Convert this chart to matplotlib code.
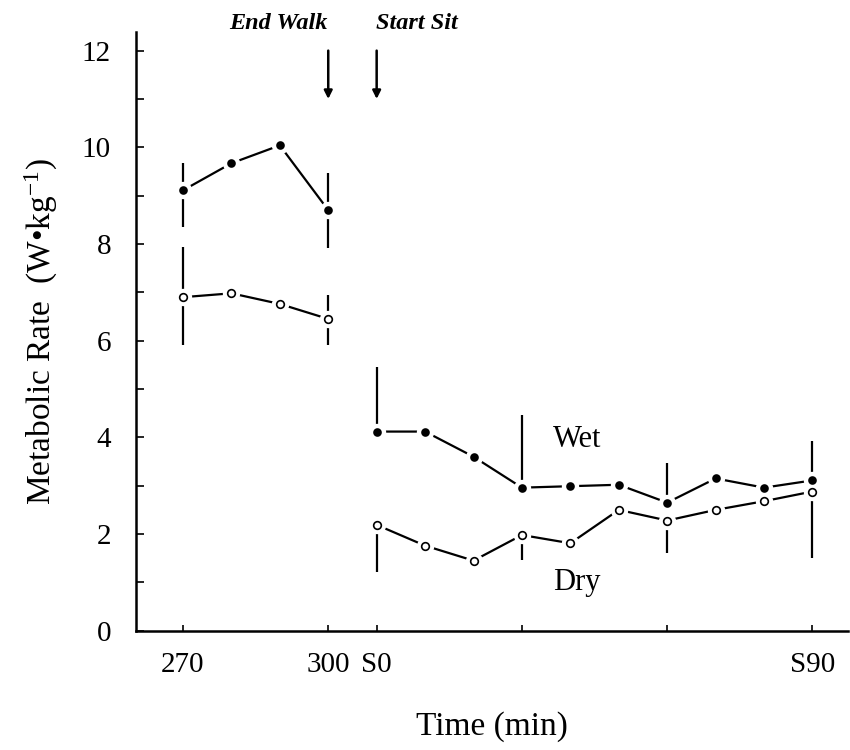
import numpy as np
import matplotlib
matplotlib.use('Agg')
import matplotlib.pyplot as plt

plt.rcParams['font.family'] = ['Liberation Serif', 'DejaVu Serif']
plt.rcParams['mathtext.fontset'] = 'custom'
plt.rcParams['mathtext.rm'] = 'Liberation Serif'
plt.rcParams['mathtext.it'] = 'Liberation Serif:italic'

# Metabolic rate (W/kg) during the last 30 min of walking and 90 min of sitting
walk_time = [270, 280, 290, 300]
sit_time = [0, 10, 20, 30, 40, 50, 60, 70, 80, 90]

wet_walk = [9.11, 9.67, 10.04, 8.70]
dry_walk = [6.90, 6.98, 6.76, 6.45]
wet_sit = [4.12, 4.12, 3.60, 2.96, 2.99, 3.02, 2.65, 3.15, 2.96, 3.11]
dry_sit = [2.19, 1.76, 1.45, 1.98, 1.81, 2.50, 2.28, 2.50, 2.68, 2.88]

# error bar ends (nan = no bar drawn)
nan = np.nan
wet_walk_hi = [9.67, nan, nan, 9.46]
wet_walk_lo = [8.35, nan, nan, 7.91]
dry_walk_hi = [7.93, nan, nan, 6.94]
dry_walk_lo = [5.91, nan, nan, 5.91]
wet_sit_hi = [5.45, nan, nan, 4.46, nan, nan, 3.46, nan, nan, 3.93]
dry_sit_lo = [1.22, nan, nan, 1.47, nan, nan, 1.61, nan, nan, 1.51]

tick_labels = ['270', '300', 'S0', 'S90']

# x positions: walking samples first, then sitting samples right after
xw = (np.array(walk_time) - 270) / 10.0
xs = 4 + np.array(sit_time) / 10.0

fig = plt.figure(figsize=(8.5, 7.5), dpi=100)
ax = fig.add_axes([0.16, 0.159, 0.838, 0.798])

lw = 1.6

def draw_bars(x, y, top):
    for xi, yi, ti in zip(x, y, top):
        if not np.isnan(ti):
            ax.plot([xi, xi], [yi, ti], color='black', lw=lw, zorder=2,
                    solid_capstyle='butt')

for x, y, hi, lo in [(xw, wet_walk, wet_walk_hi, wet_walk_lo),
                     (xw, dry_walk, dry_walk_hi, dry_walk_lo)]:
    draw_bars(x, y, hi)
    draw_bars(x, y, lo)
draw_bars(xs, wet_sit, wet_sit_hi)
draw_bars(xs, dry_sit, dry_sit_lo)

for x, y, filled in [(xw, wet_walk, True), (xs, wet_sit, True),
                     (xw, dry_walk, False), (xs, dry_sit, False)]:
    ax.plot(x, y, color='black', lw=lw, zorder=2)
    # white halo leaves a small gap between line and symbol
    ax.plot(x, y, ls='none', marker='o', ms=11.5, mfc='white', mec='white',
            zorder=3)
    ax.plot(x, y, ls='none', marker='o', ms=5 if filled else 5.5,
            mfc='black' if filled else 'white', mec='black', mew=1.2, zorder=4)

# phase markers
for xa in [xw[-1], xs[0]]:
    ax.annotate('', xy=(xa, 11.0), xytext=(xa, 12.0),
                arrowprops=dict(arrowstyle='-|>', color='black', lw=1.8,
                                mutation_scale=12, shrinkA=0, shrinkB=0))
ax.text(xw[-1] - 0.02, 12.35, 'End Walk', ha='right', va='bottom',
        fontsize=17.5, style='italic', fontweight='bold')
ax.text(xs[0] - 0.02, 12.35, 'Start Sit', ha='left', va='bottom',
        fontsize=17.5, style='italic', fontweight='bold')

ax.text(7.64, 3.80, 'Wet', fontsize=22, ha='left', va='baseline')
ax.text(7.64, 0.85, 'Dry', fontsize=22, ha='left', va='baseline')

ax.set_xlim(-0.97, 13.74)
ax.set_ylim(0, 12.38)

ax.set_xticks([xw[0], xw[-1], xs[0], xs[-1]])
ax.set_xticklabels(tick_labels)
ax.set_xticks([xs[3], xs[6]], minor=True)
ax.set_yticks(np.arange(0, 13, 2))
ax.set_yticks(np.arange(1, 13, 2), minor=True)

ax.tick_params(axis='both', which='both', direction='in', labelsize=21,
               width=1.2)
ax.tick_params(axis='y', which='both', length=6, pad=18)
ax.tick_params(axis='x', which='both', length=4, pad=15)

for side in ['top', 'right']:
    ax.spines[side].set_visible(False)
for side in ['left', 'bottom']:
    ax.spines[side].set_linewidth(1.8)

ax.set_xlabel('Time (min)', fontsize=24, labelpad=24)
ax.set_ylabel('Metabolic Rate  (W\u2022kg$^{-1}$)', fontsize=24, labelpad=16)

fig.savefig('out.png', dpi=100)
